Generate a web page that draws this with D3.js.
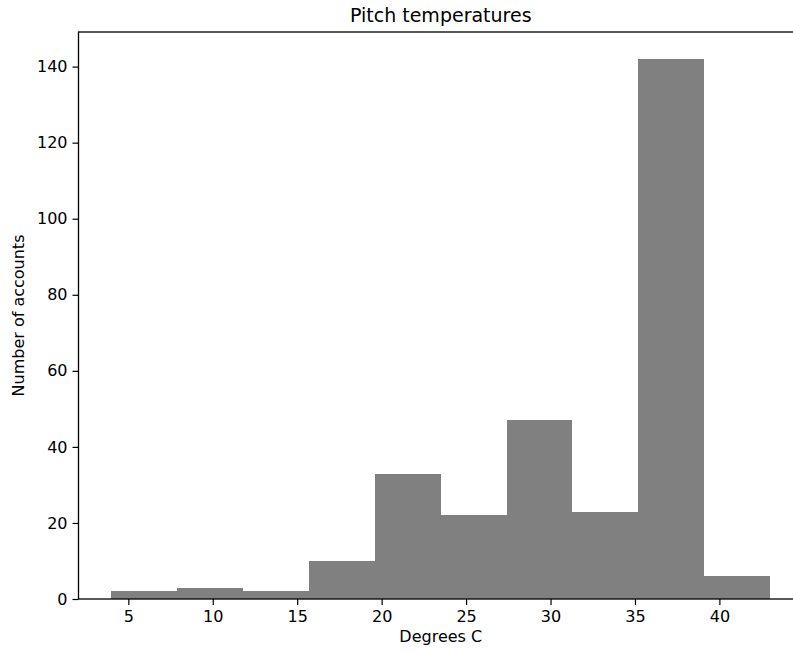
<!DOCTYPE html>
<html><head><meta charset="utf-8">
<script src="https://cdn.jsdelivr.net/npm/d3@7"></script>
<style>body{margin:0;background:#fff;} svg{display:block;font-family:"DejaVu Sans",sans-serif;}</style>
</head><body>
<script>
const binEdges = [4, 7.9, 11.8, 15.7, 19.6, 23.5, 27.4, 31.3, 35.2, 39.1, 43];
const counts = [2, 3, 2, 10, 33, 22, 47, 23, 142, 6];
const xTicks = [5, 10, 15, 20, 25, 30, 35, 40];
const yTicks = [0, 20, 40, 60, 80, 100, 120, 140];
const title = "Pitch temperatures";
const xLabel = "Degrees C";
const yLabel = "Number of accounts";

(function () {
const W = 793, H = 653;
const mLeft = 78.5, mTop = 32, mBottom = 599, mRight = 803;
const svg = d3.select("body").append("svg").attr("width", W).attr("height", H);

const x = d3.scaleLinear().domain([2.05, 44.95]).range([mLeft, mRight]);
const y = d3.scaleLinear().domain([0, 149.1]).range([mBottom, mTop]);

const bins = counts.map((c, i) => ({x0: binEdges[i], x1: binEdges[i+1], c}));
svg.append("g").attr("shape-rendering", "crispEdges").selectAll("rect").data(bins).join("rect")
  .attr("x", d => x(d.x0)).attr("width", d => x(d.x1) - x(d.x0))
  .attr("y", d => y(d.c)).attr("height", d => y(0) - y(d.c))
  .attr("fill", "#808080");

const xAxis = svg.append("g").attr("transform", `translate(0,${mBottom})`)
  .call(d3.axisBottom(x).tickValues(xTicks).tickSize(6).tickPadding(6).tickFormat(d3.format("d")));
const yAxis = svg.append("g").attr("transform", `translate(${mLeft},0)`)
  .call(d3.axisLeft(y).tickValues(yTicks).tickSize(6).tickPadding(5).tickFormat(d3.format("d")));
[xAxis, yAxis].forEach(g => {
  g.selectAll("text").attr("font-size", 16).attr("font-family", "DejaVu Sans").attr("fill", "#000");
  g.selectAll("line").attr("stroke", "#000").attr("stroke-width", 1.2);
  g.select(".domain").remove();
});

svg.append("rect").attr("x", mLeft).attr("y", mTop).attr("width", mRight - mLeft).attr("height", mBottom - mTop)
  .attr("fill", "none").attr("stroke", "#000").attr("stroke-width", 1.3);

svg.append("text").attr("x", (mLeft + mRight) / 2).attr("y", 22).attr("text-anchor", "middle")
  .attr("font-size", 19).text(title);
svg.append("text").attr("x", (mLeft + mRight) / 2).attr("y", 642).attr("text-anchor", "middle")
  .attr("font-size", 16).text(xLabel);
svg.append("text").attr("transform", `translate(24,${(mTop + mBottom) / 2}) rotate(-90)`)
  .attr("text-anchor", "middle").attr("font-size", 16).text(yLabel);
})();
</script>
</body></html>
